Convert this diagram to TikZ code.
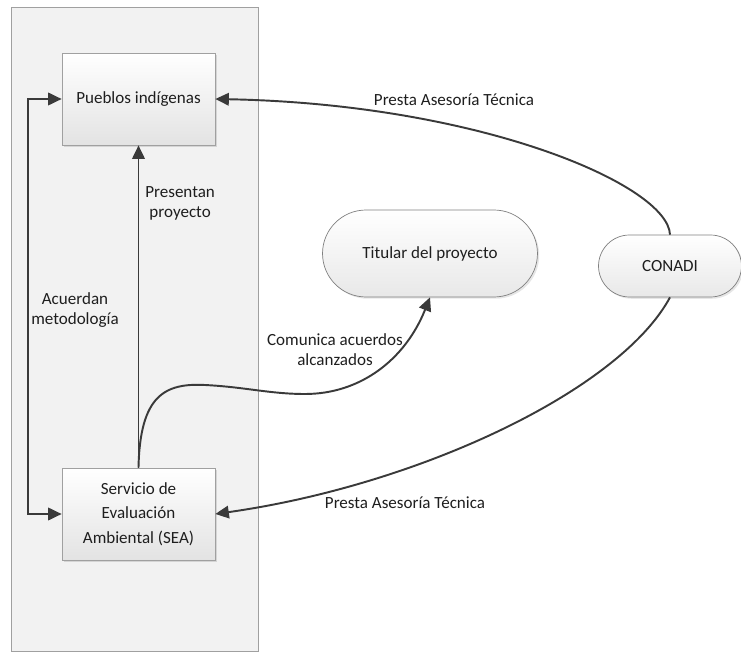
\documentclass[tikz,border=0pt]{standalone}
\usepackage{fontspec}
\setmainfont{Carlito}
\usepackage{xcolor}
\usepackage{tikz}
\usetikzlibrary{arrows.meta,shadows}

\definecolor{linie}{HTML}{3A3A3A}
\definecolor{feld}{HTML}{F2F2F2}
\definecolor{rand}{HTML}{A0A0A0}
\definecolor{schrift}{HTML}{1E1E1E}

\tikzset{
 >={Triangle[length=0.27cm,width=0.25cm]},
 kasten/.style={draw=rand, top color=white, bottom color=black!11,
  drop shadow={shadow xshift=1pt,shadow yshift=-1pt,opacity=0.25},
  minimum width=3.06cm, minimum height=1.84cm, align=center,
  font=\fontsize{9.7}{14}\selectfont},
 runde/.style={draw=rand!80!black, top color=white, bottom color=black!9,
  drop shadow={shadow xshift=1pt,shadow yshift=-1pt,opacity=0.2}, align=center},
 verbindung/.style={draw=linie, line width=1.1pt},
 marke/.style={align=center, text=schrift}
}

\begin{document}
\begin{tikzpicture}[x=0.02cm,y=-0.02cm, font=\fontsize{9.7}{11.4}\selectfont, text=schrift]
 \useasboundingbox (0,0) rectangle (741,652);
 \draw[draw=rand, fill=feld] (11,7) rectangle (258,651);
 \node[kasten] (pueblos) at (138.5,99) {Pueblos indígenas};
 \node[kasten] (sea) at (138.5,514) {Servicio de\\Evaluación\\Ambiental (SEA)};
 \node[runde, minimum width=4.3cm, minimum height=1.74cm, rounded corners=0.87cm]
  (titular) at (430,253.5) {Titular del proyecto};
 \node[runde, minimum width=2.86cm, minimum height=1.24cm, rounded corners=0.62cm]
  (conadi) at (670,266) {CONADI};
 %links
 \draw[verbindung, <->] (pueblos.west) -- ++(-34,0) |- (sea.west);
 \node[marke] (acuerdan) at (75,310) {Acuerdan\\metodología};
 \draw[verbindung, ->] (sea.north) -- (pueblos.south)
  node[marke, pos=0.82, right] (presentan) {Presentan\\proyecto};
 %Mitte
 \coordinate (k1) at (205,385);
 \coordinate (k2) at (305,394);
 \draw[verbindung, ->] (sea.north) .. controls (140,395) and (165,383) .. (k1)
  .. controls (245,387) and (270,394) .. (k2)
  .. controls (360,394) and (405,360) .. (titular.south);
 \node[marke] (comunica) at (335,350) {Comunica acuerdos\\alcanzados};
 %rechts
 \draw[verbindung, ->] (conadi.north) .. controls (668,185) and (480,104) .. (pueblos.east);
 \node[marke] (asesoria1) at (454,100) {Presta Asesoría Técnica};
 \draw[verbindung, ->] (conadi.south) .. controls (620,390) and (420,485) .. (sea.east);
 \node[marke] (asesoria2) at (405,503) {Presta Asesoría Técnica};
\end{tikzpicture}
\end{document}
